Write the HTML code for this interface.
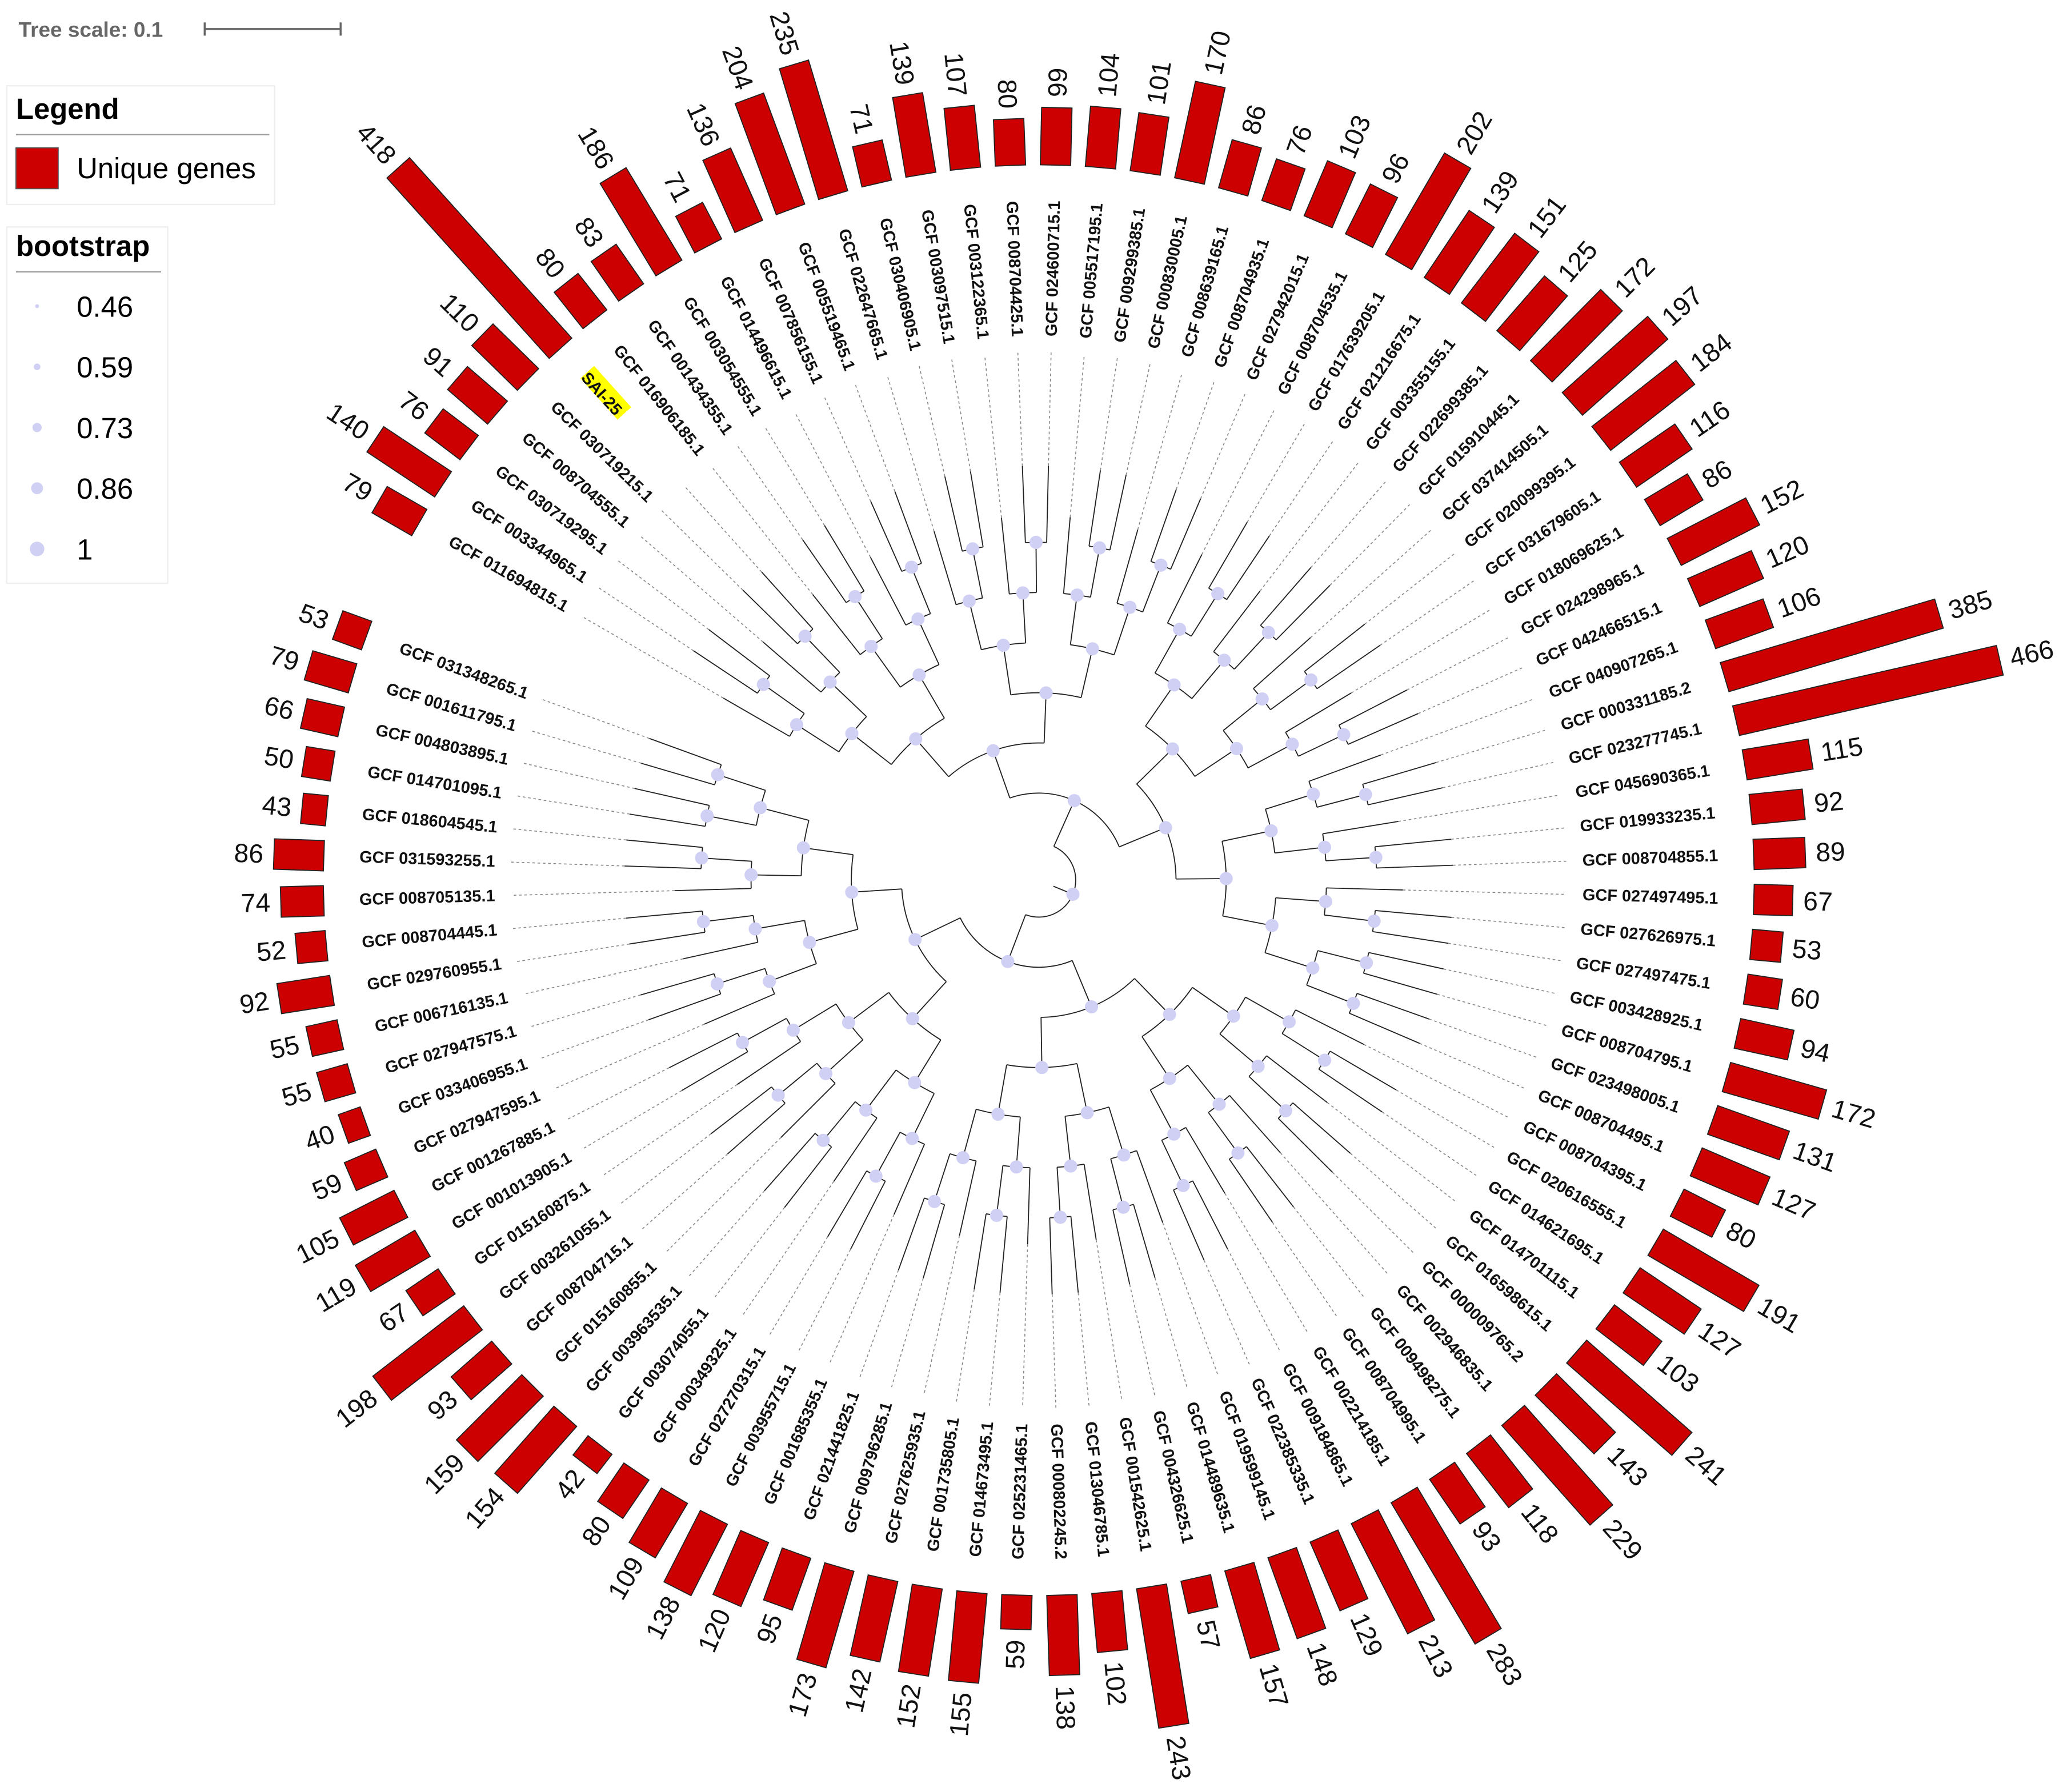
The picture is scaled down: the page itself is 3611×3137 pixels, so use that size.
<!DOCTYPE html>
<html><head><meta charset="utf-8"><style>html,body{margin:0;padding:0;background:#fff}svg{display:block}</style></head>
<body>
<svg id="chart" width="3611" height="3137" viewBox="0 0 1563 1358" xmlns="http://www.w3.org/2000/svg" font-family="Liberation Sans, sans-serif">
<rect width="1563" height="1358" fill="#fff"/>
<g>
<text x="14" y="28" font-size="16" font-weight="bold" fill="#666">Tree scale: 0.1</text>
<line x1="155" y1="22" x2="258" y2="22" stroke="#666" stroke-width="1.5"/>
<line x1="155" y1="17" x2="155" y2="27" stroke="#666" stroke-width="1.5"/>
<line x1="258" y1="17" x2="258" y2="27" stroke="#666" stroke-width="1.5"/>
</g>
<g>
<rect x="5" y="65" width="203" height="90" fill="#fff" stroke="#eee"/>
<text x="12" y="90" font-size="22" font-weight="bold">Legend</text>
<line x1="12" y1="102" x2="204" y2="102" stroke="#999"/>
<rect x="12" y="112" width="32" height="31" fill="#cc0000" stroke="#555" stroke-width="0.8"/>
<text x="58" y="135" font-size="22">Unique genes</text>
</g>
<g>
<rect x="5" y="172" width="122" height="270" fill="#fff" stroke="#eee"/>
<text x="12" y="194" font-size="22" font-weight="bold">bootstrap</text>
<line x1="12" y1="206" x2="122" y2="206" stroke="#999"/>
<g fill="#d0d0f5">
<circle cx="28" cy="232" r="1.5"/><circle cx="28" cy="278" r="2.5"/><circle cx="28" cy="324" r="3.5"/><circle cx="28" cy="370" r="4.5"/><circle cx="28" cy="416" r="5.5"/>
</g>
<g font-size="22"><text x="58" y="240">0.46</text><text x="58" y="286">0.59</text><text x="58" y="332">0.73</text><text x="58" y="378">0.86</text><text x="58" y="424">1</text></g>
</g>
<g id="tree"></g>
<g id="leaves"></g>
<g id="bars"></g>
</svg>
<script>
const leafLabels = ["GCF 031348265.1","GCF 001611795.1","GCF 004803895.1","GCF 014701095.1","GCF 018604545.1","GCF 031593255.1","GCF 008705135.1","GCF 008704445.1","GCF 029760955.1","GCF 006716135.1","GCF 027947575.1","GCF 033406955.1","GCF 027947595.1","GCF 001267885.1","GCF 001013905.1","GCF 015160875.1","GCF 003261055.1","GCF 008704715.1","GCF 015160855.1","GCF 003963535.1","GCF 003074055.1","GCF 000349325.1","GCF 027270315.1","GCF 003955715.1","GCF 001685355.1","GCF 021441825.1","GCF 009796285.1","GCF 027625935.1","GCF 001735805.1","GCF 014673495.1","GCF 025231465.1","GCF 000802245.2","GCF 013046785.1","GCF 001542625.1","GCF 004326625.1","GCF 014489635.1","GCF 019599145.1","GCF 022385335.1","GCF 009184865.1","GCF 002214185.1","GCF 008704995.1","GCF 009498275.1","GCF 002946835.1","GCF 000009765.2","GCF 016598615.1","GCF 014701115.1","GCF 014621695.1","GCF 020616555.1","GCF 008704395.1","GCF 008704495.1","GCF 023498005.1","GCF 008704795.1","GCF 003428925.1","GCF 027497475.1","GCF 027626975.1","GCF 027497495.1","GCF 008704855.1","GCF 019933235.1","GCF 045690365.1","GCF 023277745.1","GCF 000331185.2","GCF 040907265.1","GCF 042466515.1","GCF 024298965.1","GCF 018069625.1","GCF 031679605.1","GCF 020099395.1","GCF 037414505.1","GCF 015910445.1","GCF 022699385.1","GCF 003355155.1","GCF 021216675.1","GCF 017639205.1","GCF 008704535.1","GCF 027942015.1","GCF 008704935.1","GCF 008639165.1","GCF 000830005.1","GCF 009299385.1","GCF 005517195.1","GCF 024600715.1","GCF 008704425.1","GCF 003122365.1","GCF 003097515.1","GCF 030406905.1","GCF 022647665.1","GCF 005519465.1","GCF 007856155.1","GCF 014496615.1","GCF 003054555.1","GCF 001434355.1","GCF 016906185.1","SAI-25","GCF 030719215.1","GCF 008704555.1","GCF 030719295.1","GCF 003344965.1","GCF 011694815.1"];
const uniqueGenes = [53,79,66,50,43,86,74,52,92,55,55,40,59,105,119,67,198,93,159,154,42,80,109,138,120,95,173,142,152,155,59,138,102,243,57,157,148,129,213,283,93,118,229,143,241,103,127,191,80,127,131,172,94,60,53,67,89,92,115,466,385,106,120,152,86,116,184,197,172,125,151,139,202,96,103,76,86,170,101,104,99,80,107,139,71,235,204,136,71,186,83,80,418,110,91,76,140,79];
const highlightLeaf = "SAI-25";

const NS="http://www.w3.org/2000/svg";
const cx=787, cy=667, r0=542, barScale=0.44, barW=23, labelR=515;
const startA=200, span=350;
const n=leafLabels.length;
function angleOf(i){return startA - i*span/(n-1);}
function pt(r,a){const t=a*Math.PI/180;return [cx+r*Math.cos(t), cy+r*Math.sin(t)];}
function mk(tag,attrs,parent){const e=document.createElementNS(NS,tag);for(const k in attrs)e.setAttribute(k,attrs[k]);parent.appendChild(e);return e;}
const tree=document.getElementById('tree'), leaves=document.getElementById('leaves'), bars=document.getElementById('bars');

function build(lo,hi,depth,parentR){
  const r = 28 + depth*38;
  if(lo===hi){
    const a=angleOf(lo), tip=Math.min(r+20,340);
    const [x1,y1]=pt(parentR,a),[x2,y2]=pt(tip,a),[x3,y3]=pt(400,a);
    const l=mk('line',{x1,y1,x2,y2,stroke:'#222','stroke-width':0.8},tree);
    
    
    const d=mk('line',{x1:x2,y1:y2,x2:x3,y2:y3,stroke:'#888','stroke-width':0.7,'stroke-dasharray':'2,2'},tree);
    
    
    return a;
  }
  const mid=Math.floor((lo+hi)/2);
  const a1=build(lo,mid,depth+1,r), a2=build(mid+1,hi,depth+1,r);
  const a=(a1+a2)/2;
  const [px,py]=pt(parentR,a),[nx,ny]=pt(r,a);
  const s=mk('line',{x1:px,y1:py,x2:nx,y2:ny,stroke:'#222','stroke-width':0.8},tree);
  
  
  const [sx,sy]=pt(r,a1),[ex,ey]=pt(r,a2);
  const arc=mk('path',{d:`M${sx},${sy} A${r},${r} 0 0 0 ${ex},${ey}`,fill:'none',stroke:'#222','stroke-width':0.8},tree);
  
  
  const c=mk('circle',{cx:nx,cy:ny,r:5,fill:'#d0d0f5'},tree);
  
  
  return a;
}
build(0,n-1,0,12);

leafLabels.forEach((lab,i)=>{
  const a=angleOf(i), right=Math.cos(a*Math.PI/180)>0;
  const [lx,ly]=pt(labelR,a);
  const rot=right?a:a+180;
  const g=mk('g',{transform:`translate(${lx},${ly}) rotate(${rot})`},leaves);
  
  
  const anchor=right?'end':'start';
  if(lab===highlightLeaf){
    const w=42;
    mk('rect',{x:right?-w:0,y:-10,width:w,height:14,fill:'#ffff00'},g);
  }
  mk('text',{x:0,y:4,'font-size':12.5,'font-weight':'bold','text-anchor':anchor,fill:'#111'},g).textContent=lab;

  const len=uniqueGenes[i]*barScale;
  const bg=mk('g',{transform:`translate(${pt(r0,a)[0]},${pt(r0,a)[1]}) rotate(${a})`},bars);
  
  
  mk('rect',{x:0,y:-barW/2,width:len,height:barW,fill:'#cc0000',stroke:'#222','stroke-width':0.8},bg);
  const [vx,vy]=pt(r0+len+8,a);
  const vg=mk('g',{transform:`translate(${vx},${vy}) rotate(${rot})`},bars);
  
  
  mk('text',{x:0,y:7,'font-size':20,'text-anchor':right?'start':'end',fill:'#111'},vg).textContent=uniqueGenes[i];
});
</script>
</body></html>
